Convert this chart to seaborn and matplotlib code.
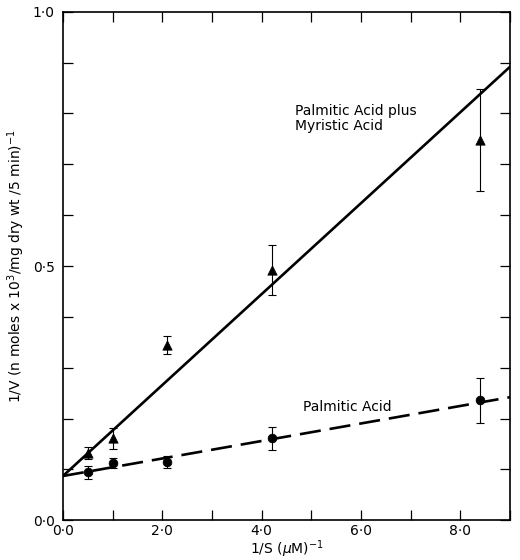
import matplotlib
matplotlib.use("Agg")
import matplotlib.pyplot as plt
import seaborn as sns
import pandas as pd
import numpy as np

# data
conc_inv = [0.5, 1.0, 2.1, 4.2, 8.4]          # 1/S (uM)^-1
mix_v = [0.132, 0.161, 0.344, 0.492, 0.748]     # palmitic + myristic, 1/V
mix_err = [0.012, 0.020, 0.018, 0.050, 0.100]
palm_v = [0.094, 0.112, 0.114, 0.161, 0.236]    # palmitic only, 1/V
palm_err = [0.012, 0.010, 0.012, 0.022, 0.044]

# fitted lines (end points)
fit_x = [0.0, 9.0]
mix_fit = [0.087, 0.892]
palm_fit = [0.087, 0.242]

x_ticks = list(range(0, 10))
x_labels = ["0·0", "", "2·0", "", "4·0", "", "6·0", "", "8·0", ""]
y_ticks = [round(0.1 * i, 1) for i in range(11)]
y_labels = ["0·0", "", "", "", "", "0·5", "", "", "", "", "1·0"]

sns.set_style("ticks")
plt.rcParams['font.family'] = ['DejaVu Sans']
plt.rcParams.update({"text.color": "black", "axes.labelcolor": "black",
                     "xtick.color": "black", "ytick.color": "black",
                     "axes.edgecolor": "black"})

fig = plt.figure(figsize=(5.2, 5.6), dpi=100)
ax = fig.add_axes([0.121, 0.071, 0.860, 0.908])

pts = pd.DataFrame({"x": conc_inv, "mix": mix_v, "palm": palm_v})
fits = pd.DataFrame({"x": fit_x, "mix": mix_fit, "palm": palm_fit})

sns.lineplot(data=fits, x="x", y="mix", ax=ax, color="black", lw=1.9)
sns.lineplot(data=fits, x="x", y="palm", ax=ax, color="black", lw=1.9,
             dashes=False, linestyle=(0, (8, 3.4)))

ax.errorbar(conc_inv, mix_v, yerr=mix_err, fmt="none", ecolor="black",
            elinewidth=0.8, capsize=3, capthick=0.8)
ax.errorbar(conc_inv, palm_v, yerr=palm_err, fmt="none", ecolor="black",
            elinewidth=0.8, capsize=3, capthick=0.8)
sns.scatterplot(data=pts, x="x", y="mix", ax=ax, marker="^", s=45,
                color="black", edgecolor="black", zorder=5)
sns.scatterplot(data=pts, x="x", y="palm", ax=ax, marker="o", s=40,
                color="black", edgecolor="black", zorder=5)

ax.text(4.68, 0.79, "Palmitic Acid plus\nMyristic Acid", fontsize=10,
        va="center", ha="left", linespacing=1.05)
ax.text(4.84, 0.222, "Palmitic Acid", fontsize=10, va="center", ha="left")

ax.set_xlim(0, 9)
ax.set_ylim(0, 1.0)
ax.set_xticks(x_ticks)
ax.set_xticklabels(x_labels, fontsize=10)
ax.set_yticks(y_ticks)
ax.set_yticklabels(y_labels, fontsize=10)
ax.tick_params(direction="in", length=7, width=0.9, top=True, right=True)
ax.tick_params(axis="x", pad=3)
ax.tick_params(axis="y", pad=6)

for s in ax.spines.values():
    s.set_visible(True)
    s.set_linewidth(1.2)

ax.set_xlabel("1/S ($\\mu$M)$^{-1}$", fontsize=10, labelpad=0)
ax.set_ylabel("1/V (n moles x 10$^3$/mg dry wt /5 min)$^{-1}$", fontsize=10,
              labelpad=4)

fig.savefig("out.png", dpi=100)
